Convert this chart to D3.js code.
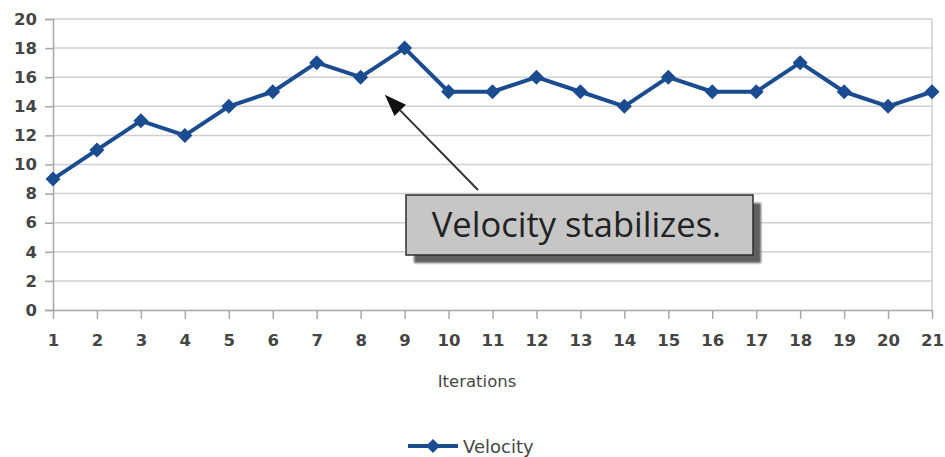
<!DOCTYPE html>
<html>
<head>
<meta charset="utf-8">
<script src="https://cdn.jsdelivr.net/npm/d3@7"></script>
<style>
  html, body { margin: 0; padding: 0; background: #fff; }
  svg { display: block; }
</style>
</head>
<body>
<svg id="chart" width="945" height="457"></svg>
<script>
// Velocity per iteration
const iterations = [1,2,3,4,5,6,7,8,9,10,11,12,13,14,15,16,17,18,19,20,21];
const velocity   = [9,11,13,12,14,15,17,16,18,15,15,16,15,14,16,15,15,17,15,14,15];
const yTicks     = [0,2,4,6,8,10,12,14,16,18,20];
const seriesName = "Velocity";
const xTitle     = "Iterations";
const noteText   = "Velocity stabilizes.";

const plot = { left: 53, right: 932, top: 19, bottom: 310 };
const blue = "#1b4c8f";
const axisFont = "'DejaVu Sans', sans-serif";
const labelColor = "#454545";

const svg = d3.select("#chart");

const x = d3.scalePoint().domain(iterations).range([plot.left, plot.right]);
const y = d3.scaleLinear().domain([0, 20]).range([plot.bottom, plot.top]);

// horizontal gridlines
svg.append("g").selectAll("line")
  .data(yTicks.filter(d => d > 0))
  .join("line")
  .attr("x1", plot.left).attr("x2", plot.right)
  .attr("y1", d => y(d)).attr("y2", d => y(d))
  .attr("stroke", "#cfcfcf").attr("stroke-width", 1.5);

// right border
svg.append("line")
  .attr("x1", plot.right).attr("x2", plot.right)
  .attr("y1", plot.top).attr("y2", plot.bottom)
  .attr("stroke", "#cfcfcf").attr("stroke-width", 1.5);

// y axis
const yAxis = svg.append("g")
  .attr("transform", `translate(${plot.left},0)`)
  .call(d3.axisLeft(y).tickValues(yTicks).tickSize(8).tickPadding(8));
yAxis.select(".domain").attr("stroke", "#a8a8a8").attr("stroke-width", 1.5);
yAxis.selectAll(".tick line").attr("stroke", "#a8a8a8").attr("stroke-width", 1.5);
yAxis.selectAll(".tick text")
  .attr("font-family", axisFont).attr("font-size", 16.5)
  .attr("fill", labelColor).attr("font-weight", "bold");

// x axis
const xAxis = svg.append("g")
  .attr("transform", `translate(0,${plot.bottom})`)
  .call(d3.axisBottom(x).tickSize(9).tickPadding(15).tickSizeOuter(0));
xAxis.select(".domain").attr("stroke", "#a8a8a8").attr("stroke-width", 1.5);
xAxis.selectAll(".tick line").attr("stroke", "#a8a8a8").attr("stroke-width", 1.5);
xAxis.selectAll(".tick text")
  .attr("font-family", axisFont).attr("font-size", 16.5)
  .attr("fill", labelColor).attr("font-weight", "bold");

// x axis title
svg.append("text")
  .attr("x", 477).attr("y", 387)
  .attr("text-anchor", "middle")
  .attr("font-family", axisFont).attr("font-size", 16.5)
  .attr("fill", labelColor)
  .text(xTitle);

// series line
const line = d3.line().x((d, i) => x(iterations[i])).y(d => y(d));
svg.append("path")
  .datum(velocity)
  .attr("d", line)
  .attr("fill", "none")
  .attr("stroke", blue).attr("stroke-width", 4)
  .attr("stroke-linejoin", "round");

// diamond markers
const diamond = r => `M0,${-r}L${r},0L0,${r}L${-r},0Z`;
svg.append("g").selectAll("path")
  .data(velocity)
  .join("path")
  .attr("transform", (d, i) => `translate(${x(iterations[i])},${y(d)})`)
  .attr("d", diamond(7.5))
  .attr("fill", blue);

// callout with drop shadow
const boxX = 406, boxY = 195, boxW = 347, boxH = 60;
const defs = svg.append("defs");
defs.append("filter").attr("id", "soft")
  .append("feGaussianBlur").attr("stdDeviation", 1.2);

svg.append("rect")
  .attr("x", boxX + 8).attr("y", boxY + 8)
  .attr("width", boxW).attr("height", boxH)
  .attr("fill", "#5e5e5e").attr("filter", "url(#soft)");
svg.append("rect")
  .attr("x", boxX).attr("y", boxY)
  .attr("width", boxW).attr("height", boxH)
  .attr("fill", "#c6c6c6").attr("stroke", "#2e2e2e").attr("stroke-width", 1.5);
svg.append("text")
  .attr("x", boxX + boxW / 2 - 3).attr("y", boxY + 42)
  .attr("text-anchor", "middle")
  .attr("font-family", "'Open Sans', sans-serif").attr("font-size", 34.5)
  .attr("fill", "#222")
  .text(noteText);

// arrow pointing at the plateau after iteration 8
const tip = [x(8) + 0.55 * (x(9) - x(8)), y(14.8)];
const tail = [478, 190];
const ang = Math.atan2(tail[1] - tip[1], tail[0] - tip[0]);
const headLen = 22, headW = 8;
const base = [tip[0] + headLen * Math.cos(ang), tip[1] + headLen * Math.sin(ang)];
svg.append("line")
  .attr("x1", tail[0]).attr("y1", tail[1])
  .attr("x2", base[0]).attr("y2", base[1])
  .attr("stroke", "#333").attr("stroke-width", 2);
const px = -Math.sin(ang), py = Math.cos(ang);
svg.append("path")
  .attr("d", `M${tip[0]},${tip[1]}L${base[0] + headW * px},${base[1] + headW * py}L${base[0] - headW * px},${base[1] - headW * py}Z`)
  .attr("fill", "#111");

// legend
const lg = svg.append("g").attr("transform", "translate(408,446)");
lg.append("line").attr("x1", 0).attr("x2", 50).attr("y1", 0).attr("y2", 0)
  .attr("stroke", blue).attr("stroke-width", 4);
lg.append("path").attr("transform", "translate(25,0)").attr("d", diamond(7)).attr("fill", blue);
lg.append("text").attr("x", 55).attr("y", 7)
  .attr("font-family", axisFont).attr("font-size", 18)
  .attr("fill", labelColor)
  .text(seriesName);
</script>
</body>
</html>
